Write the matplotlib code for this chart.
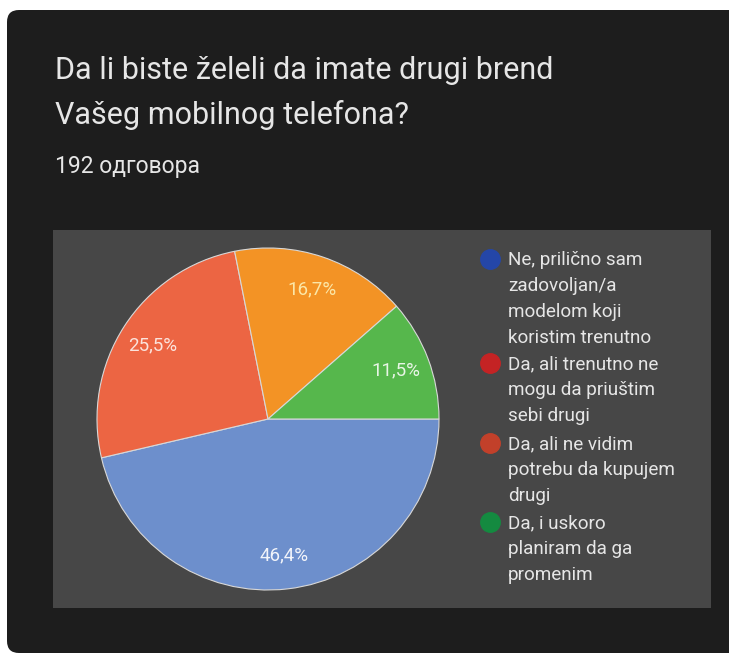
import numpy as np
import matplotlib.pyplot as plt
from matplotlib.patches import Rectangle, FancyBboxPatch
from matplotlib.lines import Line2D

# survey answers (192 responses)
labels = ["Ne, prilično sam\nzadovoljan/a\nmodelom koji\nkoristim trenutno",
          "Da, ali trenutno ne\nmogu da priuštim\nsebi drugi",
          "Da, ali ne vidim\npotrebu da kupujem\ndrugi",
          "Da, i uskoro\nplaniram da ga\npromenim"]
counts = [89, 49, 32, 22]
pct_text = ["46,4%", "25,5%", "16,7%", "11,5%"]
slice_colors = ["#6d8fcc", "#ec6543", "#f39325", "#56b74c"]
legend_colors = ["#2446a8", "#c42324", "#c2402a", "#148a40"]
label_colors = ["#f2f4fa", "#fbe3dc", "#fbe7a8", "#e8f5e6"]

title_lines = ["Da li biste želeli da imate drugi brend", "Vašeg mobilnog telefona?"]
subtitle = "192 одговора"

W, H = 729, 653
plt.rcParams['font.family'] = ['Roboto', 'DejaVu Sans']
fig = plt.figure(figsize=(W / 100, H / 100), dpi=100, facecolor="white")


def fx(x):
    return x / W


def fy(y):
    return 1 - y / H


# dark card behind everything (pixel units, rounded on the left only)
card = FancyBboxPatch((7, 0), W + 40, H - 10, boxstyle="round,pad=0,rounding_size=12",
                      transform=None, facecolor="#1d1d1d", edgecolor="none", zorder=-2)
fig.patches.append(card)
# grey chart area
area = Rectangle((fx(53), fy(608)), fx(711) - fx(53), fy(230) - fy(608),
                 transform=fig.transFigure, facecolor="#474747", edgecolor="none", zorder=-1)
fig.patches.append(area)

txt = "#e6e6e6"
fig.text(fx(55), fy(79), title_lines[0], color=txt, fontsize=22, va="baseline")
fig.text(fx(55), fy(124), title_lines[1], color=txt, fontsize=22, va="baseline")
fig.text(fx(55), fy(173), subtitle, color=txt, fontsize=16.5, va="baseline")

# pie
cx, cy, r = 268, 419, 171
ax = fig.add_axes([fx(cx - r), fy(cy + r), 2 * r / W, 2 * r / H])
wedges, _ = ax.pie(counts, colors=slice_colors, startangle=0, counterclock=False,
                   wedgeprops=dict(edgecolor="#d8d8d8", linewidth=0.8))
ax.set_xlim(-1, 1)
ax.set_ylim(-1, 1)
ax.axis("off")

total = sum(counts)
start = 0.0
for c, t, col in zip(counts, pct_text, label_colors):
    mid = start - c / total * 180
    start -= c / total * 360
    a = np.deg2rad(mid)
    ax.text(0.8 * np.cos(a), 0.8 * np.sin(a), t, color=col, fontsize=13.5,
            ha="center", va="center")

# legend
ys = [259, 363, 443, 522]
for lab, col, y in zip(labels, legend_colors, ys):
    fig.add_artist(Line2D([fx(490)], [fy(y)], marker="o", markersize=14, color=col,
                          transform=fig.transFigure))
    fig.text(fx(508), fy(y - 8), lab, color=txt, fontsize=13.6, va="top", ha="left",
             linespacing=1.58, transform=fig.transFigure)

fig.savefig("out.png", dpi=100, facecolor=fig.get_facecolor())
